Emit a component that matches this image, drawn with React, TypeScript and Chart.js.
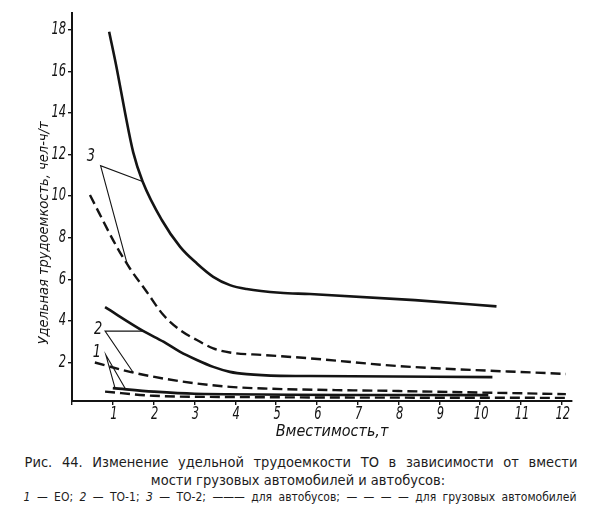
import React, { useEffect, useRef } from "react";
import { Chart, registerables } from "chart.js";

Chart.register(...registerables);

// ---- data (x: вместимость, т; y: удельная трудоемкость, чел-ч/т) ----
const bus3X = [0.91, 1.1, 1.3, 1.5, 1.73, 2.2, 2.65, 3.06, 3.46, 3.87, 4.28, 5.1, 5.83, 8.4, 10.4];
const bus3Y = [17.9, 16.1, 14.0, 12.1, 10.7, 8.85, 7.56, 6.76, 6.12, 5.72, 5.53, 5.35, 5.29, 5.0, 4.7];

const truck3X = [0.44, 1.1, 1.42, 1.83, 2.24, 2.65, 3.06, 3.46, 3.87, 4.69, 5.83, 8.0, 12.1];
const truck3Y = [10.05, 7.55, 6.52, 5.4, 4.28, 3.56, 3.08, 2.68, 2.48, 2.36, 2.2, 1.83, 1.45];

const bus2X = [0.81, 1.75, 2.24, 2.65, 3.06, 3.46, 3.87, 4.28, 5.1, 5.83, 10.3];
const bus2Y = [4.66, 3.51, 3.0, 2.51, 2.12, 1.79, 1.55, 1.44, 1.36, 1.35, 1.3];

const truck2X = [0.56, 1.42, 2.24, 3.06, 3.87, 4.69, 8.0, 12.1];
const truck2Y = [2.0, 1.55, 1.23, 0.99, 0.83, 0.75, 0.63, 0.48];

const bus1X = [1.0, 2.0, 3.0, 10.2];
const bus1Y = [0.77, 0.6, 0.5, 0.43];

const truck1X = [0.81, 2.0, 4.0, 12.1];
const truck1Y = [0.6, 0.4, 0.34, 0.3];

// leader lines from the curve numbers
const leader3X = [1.73, 0.7, 1.35];
const leader3Y = [10.7, 11.46, 6.75];
const leader2X = [1.75, 0.81, 1.5];
const leader2Y = [3.51, 3.51, 1.52];
const leader1X = [1.05, 0.83, 1.3];
const leader1Y = [0.8, 2.36, 0.76];

// curve numbers
const numberLabels = ["3", "2", "1"];
const numberX = [0.46, 0.64, 0.61];
const numberY = [11.9, 3.56, 2.5];

const xTitle = "Вместимость,т";
const yTitle = "Удельная трудоемкость, чел-ч/т";

const INK = "#141414";
const FAMILY = '"DejaVu Sans Condensed", "Liberation Sans", sans-serif';

const pts = (xs: number[], ys: number[]) => xs.map((x, i) => ({ x, y: ys[i] }));

const drawSqueezed = (ctx: any, t: string, x: number, y: number, sx: number) => {
  ctx.save();
  ctx.translate(x, y);
  ctx.scale(sx, 1);
  ctx.fillText(t, 0, 0);
  ctx.restore();
};

const textPlugin = {
  id: "textPlugin",
  afterDatasetsDraw(chart: any) {
    const { ctx, scales } = chart;
    const xs = scales.x;
    const ys = scales.y;
    ctx.save();
    ctx.fillStyle = INK;
    ctx.textBaseline = "middle";
    ctx.font = `italic 17px ${FAMILY}`;
    // y tick labels
    ctx.textAlign = "right";
    ys.ticks.forEach((t: any) => {
      if (t.value === 0) return;
      drawSqueezed(ctx, String(t.value), 66, ys.getPixelForValue(t.value), 0.75);
    });
    // x tick labels
    ctx.textAlign = "center";
    xs.ticks.forEach((t: any) => {
      if (t.value === 0) return;
      drawSqueezed(ctx, String(t.value), xs.getPixelForValue(t.value) + 1, 415, 0.75);
    });
    // curve numbers
    numberLabels.forEach((t, i) => {
      drawSqueezed(ctx, t, xs.getPixelForValue(numberX[i]), ys.getPixelForValue(numberY[i]), 0.85);
    });
    // x title
    ctx.font = `italic 16px ${FAMILY}`;
    ctx.fillText(xTitle, 332, 432, 116);
    // y title
    ctx.font = `italic 14.5px ${FAMILY}`;
    ctx.translate(44, 233);
    ctx.rotate(-Math.PI / 2);
    ctx.fillText(yTitle, 0, 0, 240);
    ctx.restore();
  },
};

export default function App() {
  const ref = useRef<HTMLCanvasElement | null>(null);

  useEffect(() => {
    if (!ref.current) return;
    const solid = (xs: number[], ys: number[]) => ({
      data: pts(xs, ys),
      borderColor: INK,
      borderWidth: 2.6,
      pointRadius: 0,
      cubicInterpolationMode: "monotone" as const,
      fill: false,
    });
    const dashed = (xs: number[], ys: number[]) => ({
      data: pts(xs, ys),
      borderColor: INK,
      borderWidth: 2.4,
      borderDash: [10, 5],
      pointRadius: 0,
      cubicInterpolationMode: "monotone" as const,
      fill: false,
    });
    const thin = (xs: number[], ys: number[]) => ({
      data: pts(xs, ys),
      borderColor: INK,
      borderWidth: 1.1,
      pointRadius: 0,
      tension: 0,
      fill: false,
    });
    const chart = new Chart(ref.current, {
      type: "line",
      data: {
        datasets: [
          solid(bus3X, bus3Y),
          dashed(truck3X, truck3Y),
          solid(bus2X, bus2Y),
          dashed(truck2X, truck2Y),
          solid(bus1X, bus1Y),
          dashed(truck1X, truck1Y),
          thin(leader3X, leader3Y),
          thin(leader2X, leader2Y),
          thin(leader1X, leader1Y),
        ] as any,
      },
      options: {
        animation: false,
        responsive: false,
        layout: { padding: { top: 13, right: 24, left: 0, bottom: 0 } },
        plugins: { legend: { display: false }, tooltip: { enabled: false } },
        scales: {
          x: {
            type: "linear",
            min: 0,
            max: 12.25,
            afterFit: (s: any) => {
              s.height = 44;
            },
            ticks: { stepSize: 1, includeBounds: false, display: false },
            grid: { drawOnChartArea: false, tickLength: 4, color: INK, lineWidth: 1.4 },
            border: { color: INK, width: 2 },
          },
          y: {
            type: "linear",
            min: 0.15,
            max: 18.8,
            afterFit: (s: any) => {
              s.width = 72;
            },
            ticks: { stepSize: 2, includeBounds: false, display: false },
            grid: { drawOnChartArea: false, tickLength: 4, color: INK, lineWidth: 1.4 },
            border: { color: INK, width: 2 },
          },
        },
      },
      plugins: [textPlugin],
    });
    return () => chart.destroy();
  }, []);

  return (
    <div style={{ position: "fixed", left: 0, top: 0, width: 596, height: 526, background: "#fff" }}>
      <canvas ref={ref} width={596} height={445} style={{ display: "block" }} />
      <div
        style={{
          position: "absolute",
          left: 0,
          top: 453,
          width: 596,
          textAlign: "center",
          fontFamily: FAMILY,
          color: "#1c1c1c",
        }}
      >
        <div style={{ fontSize: 14.5, lineHeight: "18px", wordSpacing: "5.5px", marginLeft: 6 }}>
          Рис. 44. Изменение удельной трудоемкости ТО в зависимости от вмести
        </div>
        <div style={{ fontSize: 14.5, lineHeight: "18px" }}>мости грузовых автомобилей и автобусов:</div>
        <div style={{ fontSize: 12, lineHeight: "16px", wordSpacing: "3px", marginLeft: 4 }}>
          <i>1</i> — ЕО; <i>2</i> — ТО-1; <i>3</i> — ТО-2; ——— для автобусов; — — — — для грузовых автомобилей
        </div>
      </div>
    </div>
  );
}
